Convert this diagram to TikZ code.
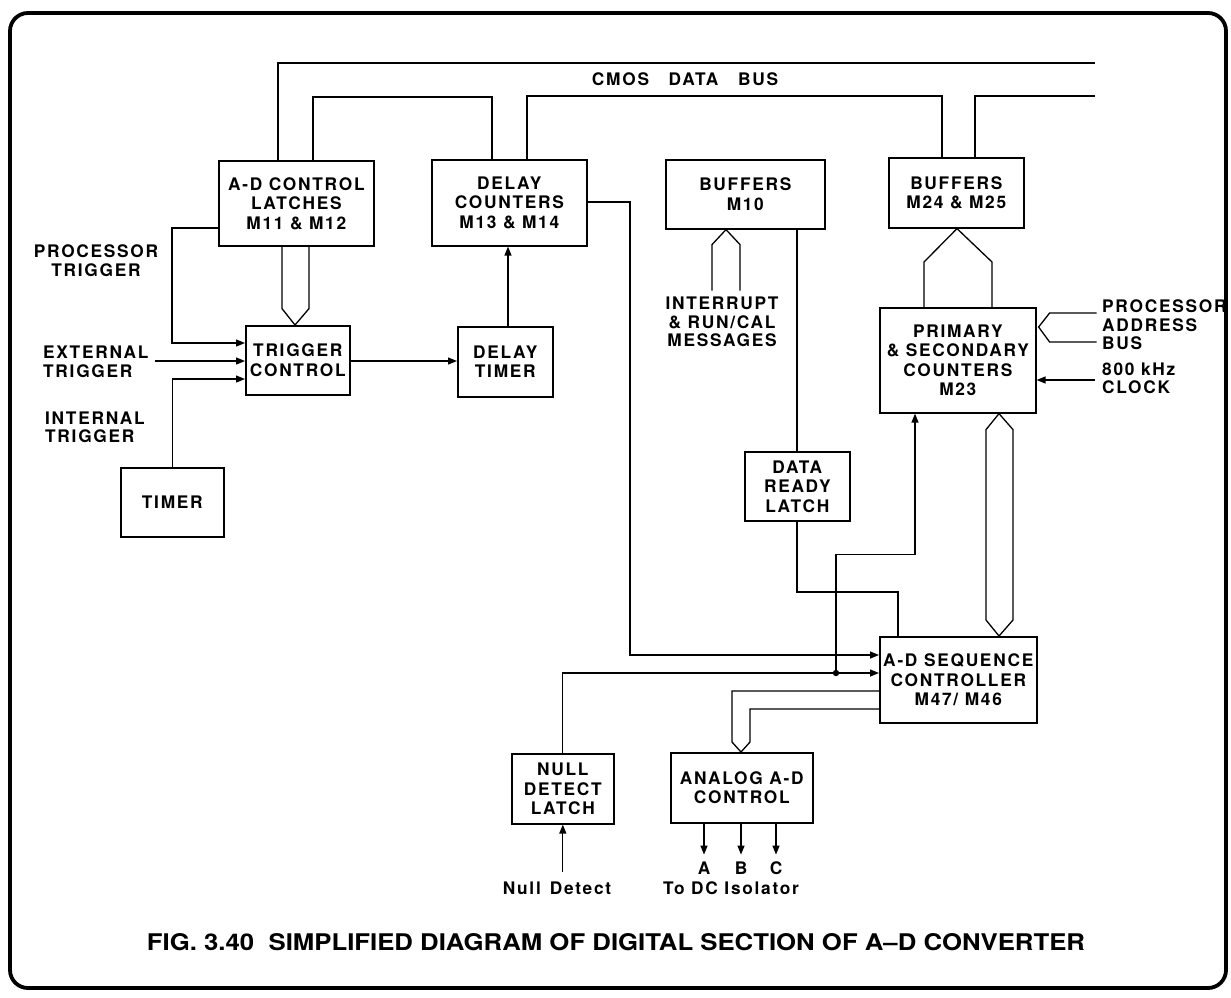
\documentclass[tikz,border=0pt]{standalone}
\usepackage{fontspec}
\setmainfont{TeX Gyre Heros}
\newfontfamily\dfont[LetterSpace=10]{TeX Gyre Heros}
\usetikzlibrary{arrows.meta,calc}
\begin{document}
\begin{tikzpicture}[x=1pt,y=-1pt,
  blk/.style={draw, line width=1.6pt, anchor=north west, inner sep=0pt, align=center,
    font=\dfont\bfseries\fontsize{17.3}{19.5}\selectfont},
  lbl/.style={inner sep=0pt, align=center, font=\dfont\bfseries\fontsize{17.3}{18.5}\selectfont},
  lbll/.style={lbl, align=left, anchor=west},
  ln/.style={line width=1.3pt},
  arr/.style={ln, -{Triangle[length=9pt,width=7pt]}}]
\useasboundingbox (0,0) rectangle (1231,997);
\draw[line width=3.8pt, rounded corners=18pt] (10,13) rectangle (1226,988);

% boxes
\node[blk, minimum width=155pt, minimum height=85pt] (lat) at (218,160) {A-D CONTROL\\LATCHES\\M11 \& M12};
\node[blk, minimum width=155pt, minimum height=86pt] (dc) at (431,159) {DELAY\\COUNTERS\\M13 \& M14};
\node[blk, minimum width=159pt, minimum height=69pt] (b10) at (665,159) {BUFFERS\\M10};
\node[blk, minimum width=135pt, minimum height=70pt] (b24) at (888,157) {BUFFERS\\M24 \& M25};
\node[blk, minimum width=104pt, minimum height=69pt] (tc) at (245,325) {TRIGGER\\CONTROL};
\node[blk, minimum width=95pt, minimum height=70pt] (dt) at (457,326) {DELAY\\TIMER};
\node[blk, minimum width=103pt, minimum height=69pt] (tim) at (120,467) {TIMER};
\node[blk, minimum width=156pt, minimum height=105pt] (pc) at (879,307) {PRIMARY\\\& SECONDARY\\COUNTERS\\M23};
\node[blk, minimum width=105pt, minimum height=69pt] (drl) at (744,451) {DATA\\READY\\LATCH};
\node[blk, minimum width=157pt, minimum height=86pt] (seq) at (879,636) {A-D SEQUENCE\\CONTROLLER\\M47/ M46};
\node[blk, minimum width=102pt, minimum height=70pt] (ndl) at (511,753) {NULL\\DETECT\\LATCH};
\node[blk, minimum width=142pt, minimum height=70pt] (ana) at (670,752) {ANALOG A-D\\CONTROL};

% labels
\node[lbl] (cmos) at (685,79) {CMOS\ \ \ DATA\ \ \ BUS};
\node[lbl] (ptrig) at (96,260.5) {PROCESSOR\\TRIGGER};
\node[lbll] (etrig) at (43,362) {EXTERNAL\\TRIGGER};
\node[lbll] (itrig) at (45,427.5) {INTERNAL\\TRIGGER};
\node[lbll] (pab) at (1102,325) {PROCESSOR\\ADDRESS\\BUS};
\node[lbll] (clkl) at (1102,378.5) {800 kHz\\CLOCK};
\node[lbl] (intr) at (722,322) {INTERRUPT\\\& RUN/CAL\\MESSAGES};
\node[lbl] (nd) at (557,888) {Null\hspace{9pt}Detect};
\node[lbl] (tdc) at (731,888) {To DC Isolator};
\node[lbl] (la) at (704,868) {A};
\node[lbl] (lb) at (741,868) {B};
\node[lbl] (lc) at (776,868) {C};
\node[inner sep=0pt] (cap) at (616,942) {\resizebox{938pt}{17pt}{\bfseries FIG. 3.40\ \ SIMPLIFIED DIAGRAM OF DIGITAL SECTION OF A–D CONVERTER}};

% free ends
\coordinate (busA) at (1095,63);
\coordinate (busB) at (1095,96);
\coordinate (extin) at (155,361);
\coordinate (clk) at (1095,380);
\coordinate (dot) at ($(seq.north west)+(-43,37)$);

% data bus
\draw[ln] ($(lat.north west)+(60,0)$) |- (busA);
\draw[ln] ($(lat.north west)+(95,0)$) |- ($(dc.north west)+(61,-62)$) -- ($(dc.north west)+(61,0)$);
\draw[ln] ($(dc.north west)+(96,0)$) |- ($(b24.north west)+(54,-61)$) -- ($(b24.north west)+(54,0)$);
\draw[ln] ($(b24.north west)+(87,0)$) |- (busB);

% latches -> trigger control bus
\draw[ln] ($(lat.south west)+(64,0)$) -- ++(0,62) -- ($(tc.north west)+(50,0)$) -- ($(lat.south west)+(91,62)$) -- ++(0,-62);

% triggers
\draw[arr] ($(lat.north west)+(0,68)$) -| ($(tc.north west)+(-73,18)$) -- ($(tc.north west)+(0,18)$);
\draw[arr] (extin) -- ($(tc.north west)+(0,36)$);
\draw[arr] (tim.north) |- ($(tc.north west)+(0,54)$);
\draw[arr] ($(tc.north east)+(0,36)$) -- ($(dt.north west)+(0,35)$);
\draw[arr] ($(dt.north west)+(51,0)$) -- ($(dc.south west)+(77,0)$);
\draw[arr] ($(dc.north east)+(0,43)$) -| ($(seq.north west)+(-249,19)$) -- ($(seq.north west)+(0,19)$);

% interrupt bus into buffers M10
\draw[ln] ($(b10.south west)+(47,61)$) -- ++(0,-46) -- ($(b10.south west)+(61,0)$) -- ($(b10.south west)+(75,15)$) -- ++(0,46);

% buffers M10 -> data ready -> sequencer
\draw[ln] ($(b10.south west)+(132,0)$) -- ($(drl.north west)+(53,0)$);
\draw[ln] ($(drl.south west)+(53,0)$) |- ($(seq.north west)+(19,-44)$) -- ($(seq.north west)+(19,0)$);

% buffers M24 <-> primary counters
\draw[ln] ($(pc.north west)+(45,0)$) -- ++(0,-45) -- ($(b24.south west)+(69,0)$) -- ($(pc.north west)+(113,-45)$) -- ++(0,45);

% processor address bus
\draw[ln] ($(pc.north east)+(60,6)$) -- ++(-47,0) -- ($(pc.north east)+(2,20)$) -- ($(pc.north east)+(13,35)$) -- ++(47,0);
\draw[arr] (clk) -- ($(pc.north east)+(0,73)$);

% primary <-> sequencer bus
\draw[ln] ($(pc.south west)+(120,0)$) -- ++(14,16) -- ($(seq.north west)+(134,-16)$) -- ($(seq.north west)+(120,0)$) -- ($(seq.north west)+(107,-16)$) -- ($(pc.south west)+(107,16)$) -- cycle;

% null detect and dot branch
\draw[arr] (ndl.north) |- ($(seq.north west)+(0,37)$);
\fill (dot) circle (3.2);
\draw[arr] (dot) |- ($(pc.south west)+(36,141)$) -- ($(pc.south west)+(36,0)$);
\draw[arr] ($(ndl.south)+(0,47)$) -- (ndl.south);

% sequencer -> analog bus
\draw[ln] ($(seq.north west)+(0,55)$) -| ($(ana.north west)+(62,-10)$) -- ($(ana.north west)+(71,0)$) -- ($(ana.north west)+(80,-10)$) |- ($(seq.north west)+(0,73)$);

% analog outputs
\draw[arr] ($(ana.south west)+(34,0)$) -- ($(ana.south west)+(34,31)$);
\draw[arr] ($(ana.south west)+(71,0)$) -- ($(ana.south west)+(71,31)$);
\draw[arr] ($(ana.south west)+(106,0)$) -- ($(ana.south west)+(106,31)$);
\end{tikzpicture}
\end{document}
